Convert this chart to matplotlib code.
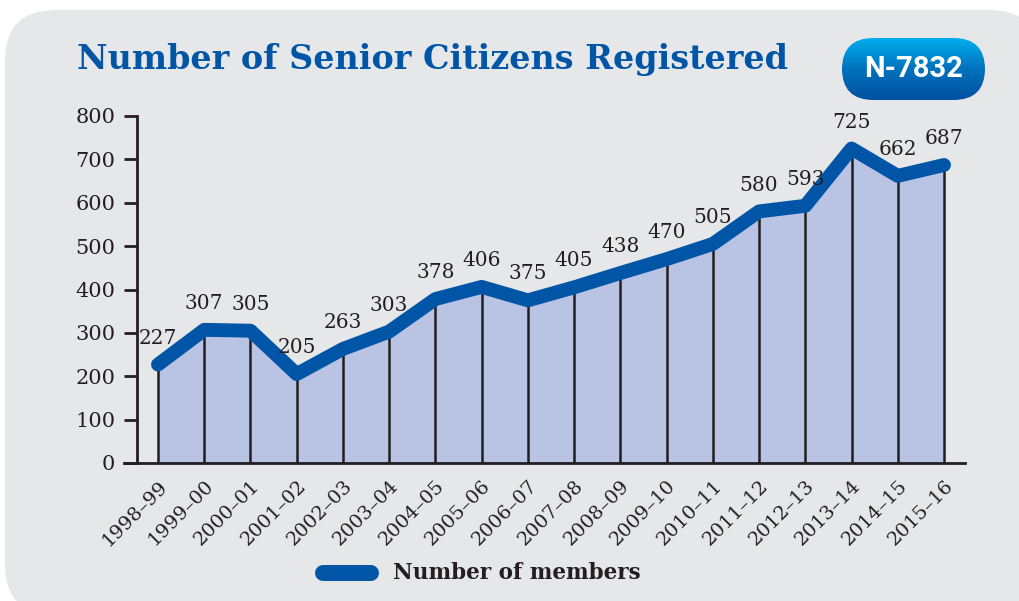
import numpy as np
import matplotlib
matplotlib.use("Agg")
import matplotlib.pyplot as plt
from matplotlib.patches import FancyBboxPatch
from matplotlib.colors import LinearSegmentedColormap

# ---- data ----
years = ["1998–99", "1999–00", "2000–01", "2001–02", "2002–03", "2003–04",
         "2004–05", "2005–06", "2006–07", "2007–08", "2008–09", "2009–10",
         "2010–11", "2011–12", "2012–13", "2013–14", "2014–15", "2015–16"]
members = [227, 307, 305, 205, 263, 303, 378, 406, 375, 405, 438, 470,
           505, 580, 593, 725, 662, 687]
yticks = [0, 100, 200, 300, 400, 500, 600, 700, 800]
title = "Number of Senior Citizens Registered"
badge = "N-7832"
legend_label = "Number of members"

W, H = 1020, 601
fig = plt.figure(figsize=(W / 100, H / 100), dpi=100)
fig.patch.set_facecolor("white")

BG = "#e6e7e9"
BLUE = "#0055a6"
FILL = "#b9c3e3"
TXT = "#231f20"
SERIF = ["DejaVu Serif"]

def px(x, y):
    return x / W, 1 - y / H

# background panel
panel = FancyBboxPatch(px(5, 615), (1040 - 5) / W, (615 - 10) / H,
                       boxstyle="round,pad=0,rounding_size=0.05",
                       transform=fig.transFigure, facecolor=BG, edgecolor="none",
                       mutation_aspect=W / H, zorder=-10)
fig.patches.append(panel)

# title
fig.text(*px(77, 60), title, fontsize=24, fontweight="bold", color=BLUE,
         family=SERIF, ha="left", va="center")

# badge
bx0, by0, bx1, by1 = 842, 38, 985, 100
bax = fig.add_axes([bx0 / W, 1 - by1 / H, (bx1 - bx0) / W, (by1 - by0) / H])
bax.set_axis_off()
grad = np.linspace(0, 1, 100).reshape(-1, 1)
cmap = LinearSegmentedColormap.from_list("b", ["#00aeef", "#0072bc", "#0050a0"])
im = bax.imshow(grad, aspect="auto", cmap=cmap, extent=[0, 1, 0, 1], origin="upper")
bax.set_xlim(0, 1); bax.set_ylim(0, 1)
clip = FancyBboxPatch((0, 0), 1, 1, boxstyle="round,pad=0,rounding_size=0.22",
                      transform=bax.transAxes, facecolor="none", edgecolor="none",
                      mutation_aspect=(bx1 - bx0) / (by1 - by0))
bax.add_patch(clip)
im.set_clip_path(clip)
bax.text(0.5, 0.5, badge, transform=bax.transAxes, ha="center", va="center",
         color="white", fontsize=21, fontweight="bold",
         family=["Roboto", "DejaVu Sans"])

# main axes
xl, xr, yt, yb = 124, 965, 116, 463
ax = fig.add_axes([xl / W, 1 - yb / H, (xr - xl) / W, (yb - yt) / H])
ax.set_facecolor("none")
step = (944 - 158) / (len(years) - 1)
x = np.arange(len(years))
ax.set_xlim((xl - 158) / step, (xr - 158) / step)
ax.set_ylim(0, 800)

ax.fill_between(x, 0, members, color=FILL, zorder=1, lw=0)
ax.vlines(x, 0, members, color=TXT, lw=1.8, zorder=2)
ax.plot(x, members, color=BLUE, lw=10, solid_capstyle="round",
        solid_joinstyle="round", zorder=3, clip_on=False)
for xi, v in zip(x, members):
    ax.annotate(str(v), (xi, v), xytext=(0, 19), textcoords="offset points",
                ha="center", va="center", fontsize=14.5, color=TXT, family=SERIF)

for s in ["top", "right"]:
    ax.spines[s].set_visible(False)
ax.spines["left"].set_position(("data", (137 - 158) / step))
ax.spines["left"].set_linewidth(2)
ax.spines["bottom"].set_linewidth(2)
ax.spines["left"].set_color(TXT)
ax.spines["bottom"].set_color(TXT)
ax.set_yticks(yticks)
ax.set_yticklabels([str(t) for t in yticks], fontsize=15, color=TXT, family=SERIF)
ax.tick_params(axis="y", length=9.5, width=2, color=TXT, pad=6)
ax.set_xticks(x)
ax.set_xticklabels(years, rotation=45, ha="right", rotation_mode="anchor",
                   fontsize=14, color=TXT, family=SERIF)
ax.tick_params(axis="x", length=0, pad=10)

# legend
lax = fig.add_axes([0, 0, 1, 1], facecolor="none")
lax.set_axis_off()
lax.set_xlim(0, W); lax.set_ylim(H, 0)
lax.plot([323, 371], [573, 573], color=BLUE, lw=11.5, solid_capstyle="round")
lax.text(393, 573, legend_label, fontsize=15.5, fontweight="bold", color=TXT,
         family=SERIF, ha="left", va="center")

fig.savefig("out.png", dpi=100, facecolor=fig.get_facecolor())
